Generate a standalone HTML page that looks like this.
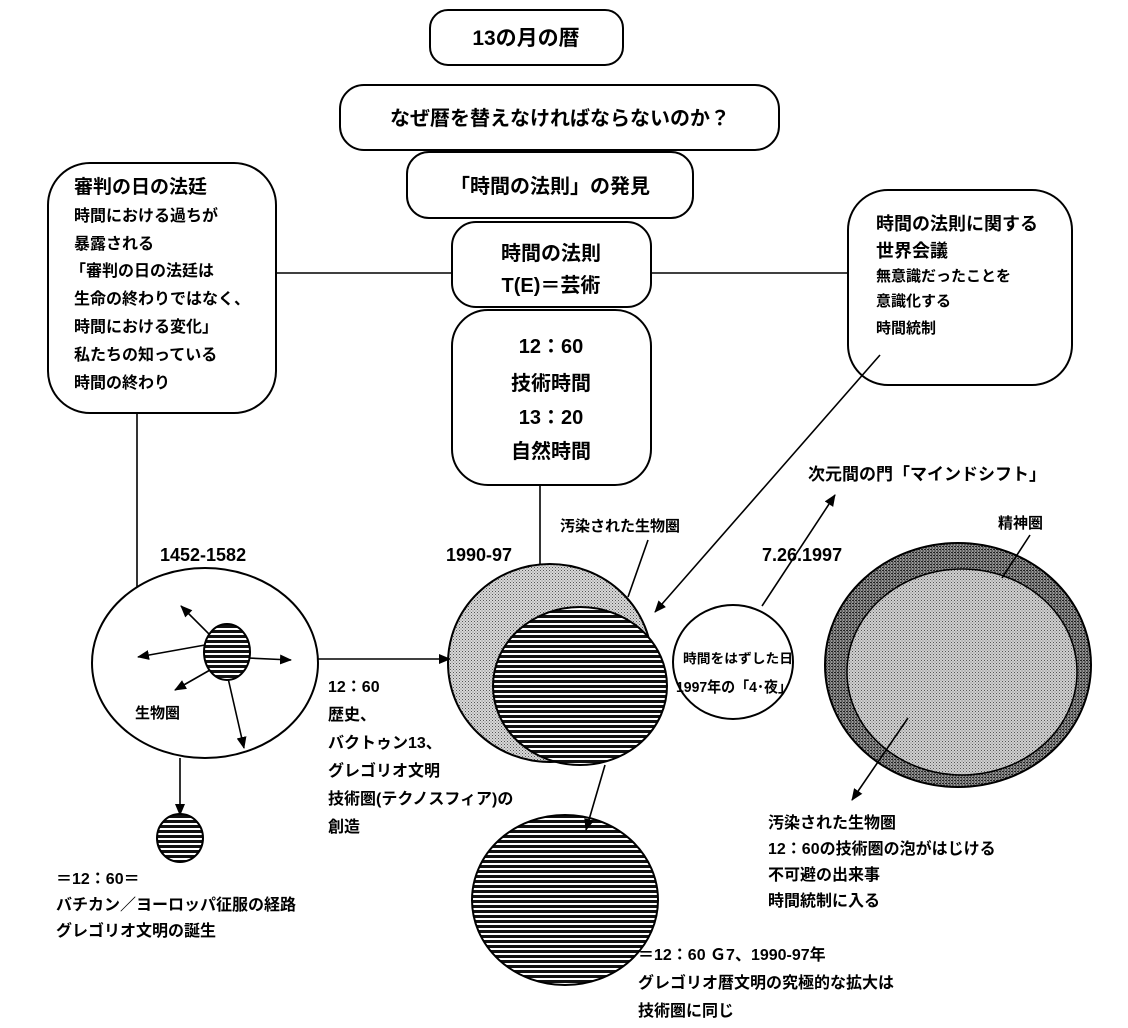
<!DOCTYPE html>
<html><head><meta charset="utf-8"><style>
html,body{margin:0;padding:0;background:#fff}
svg{display:block}
text{font-family:"Liberation Sans","Noto Sans CJK JP",sans-serif;font-weight:bold;fill:#000}
</style></head><body>
<svg width="1128" height="1028" viewBox="0 0 1128 1028" xmlns="http://www.w3.org/2000/svg">
<defs>
<pattern id="hat" width="4" height="5" patternUnits="userSpaceOnUse"><rect width="4" height="5" fill="#fff"/><rect width="4" height="3" fill="#111"/></pattern>
<pattern id="pale" width="3" height="3" patternUnits="userSpaceOnUse"><rect width="3" height="3" fill="#d8d8d8"/><rect width="1" height="1" fill="#555"/><rect x="1.5" y="1.5" width="1" height="1" fill="#777"/></pattern>
<pattern id="dark" width="3" height="3" patternUnits="userSpaceOnUse"><rect width="3" height="3" fill="#999"/><rect width="2" height="1" fill="#222"/><rect x="1" y="1.5" width="2" height="1" fill="#333"/></pattern>
<pattern id="light" width="3" height="3" patternUnits="userSpaceOnUse"><rect width="3" height="3" fill="#d0d0d0"/><rect width="1" height="1" fill="#555"/><rect x="1.5" y="1.5" width="1" height="1" fill="#777"/></pattern>
<marker id="ar" markerWidth="12" markerHeight="10" refX="11" refY="5" orient="auto" markerUnits="userSpaceOnUse"><path d="M0,0 L12,5 L0,10 Z" fill="#000"/></marker>
</defs>
<g fill="#fff" stroke="#000" stroke-width="2">
<rect x="430" y="10" width="193" height="55" rx="18"/>
<rect x="340" y="85" width="439" height="65" rx="24"/>
<rect x="407" y="152" width="286" height="66" rx="22"/>
<rect x="452" y="222" width="199" height="85" rx="24"/>
<rect x="452" y="310" width="199" height="175" rx="36"/>
<rect x="48" y="163" width="228" height="250" rx="42"/>
<rect x="848" y="190" width="224" height="195" rx="40"/>
</g>
<g stroke="#000" stroke-width="1.6" fill="none">
<line x1="276" y1="273" x2="452" y2="273"/>
<line x1="651" y1="273" x2="848" y2="273"/>
<line x1="137" y1="413" x2="137" y2="590"/>
<line x1="540" y1="485" x2="540" y2="575"/>
</g>
<ellipse cx="205" cy="663" rx="113" ry="95" fill="#fff" stroke="#000" stroke-width="2"/>
<ellipse cx="550" cy="663" rx="102" ry="99" fill="url(#pale)" stroke="#000" stroke-width="2"/>
<ellipse cx="580" cy="686" rx="87" ry="79" fill="url(#hat)" stroke="#000" stroke-width="2"/>
<ellipse cx="733" cy="662" rx="60" ry="57" fill="#fff" stroke="#000" stroke-width="2"/>
<ellipse cx="958" cy="665" rx="133" ry="122" fill="url(#dark)" stroke="#000" stroke-width="2"/>
<ellipse cx="962" cy="672" rx="115" ry="103" fill="url(#light)" stroke="#000" stroke-width="1.5"/>
<ellipse cx="565" cy="900" rx="93" ry="85" fill="url(#hat)" stroke="#000" stroke-width="2"/>
<g stroke="#000" stroke-width="1.6" fill="none">
<line x1="215" y1="640" x2="181" y2="606" marker-end="url(#ar)"/>
<line x1="205" y1="645" x2="138" y2="657" marker-end="url(#ar)"/>
<line x1="248" y1="658" x2="291" y2="660" marker-end="url(#ar)"/>
<line x1="210" y1="670" x2="175" y2="690" marker-end="url(#ar)"/>
<line x1="228" y1="678" x2="244" y2="748" marker-end="url(#ar)"/>
<line x1="648" y1="540" x2="628" y2="597"/>
<line x1="1030" y1="535" x2="1002" y2="578"/>
<line x1="318" y1="659" x2="450" y2="659" marker-end="url(#ar)"/>
<line x1="880" y1="355" x2="655" y2="612" marker-end="url(#ar)"/>
<line x1="762" y1="606" x2="835" y2="495" marker-end="url(#ar)"/>
<line x1="180" y1="758" x2="180" y2="815" marker-end="url(#ar)"/>
<line x1="605" y1="765" x2="586" y2="830" marker-end="url(#ar)"/>
<line x1="908" y1="718" x2="852" y2="800" marker-end="url(#ar)"/>
</g>
<ellipse cx="227" cy="652" rx="23" ry="28" fill="url(#hat)" stroke="#000" stroke-width="2"/>
<ellipse cx="180" cy="838" rx="23" ry="24" fill="url(#hat)" stroke="#000" stroke-width="2"/>

<g font-size="20" text-anchor="middle">
<text x="526" y="45" font-size="21">13の月の暦</text>
<text x="560" y="125">なぜ暦を替えなければならないのか？</text>
<text x="550" y="193">「時間の法則」の発見</text>
<text x="551" y="260">時間の法則</text>
<text x="551" y="292">T(E)＝芸術</text>
<text x="551" y="353">12：60</text>
<text x="551" y="390">技術時間</text>
<text x="551" y="424">13：20</text>
<text x="551" y="458">自然時間</text>
</g>
<g font-size="16">
<text x="74" y="193" font-size="19">審判の日の法廷</text>
<text x="74" y="221">時間における過ちが</text>
<text x="74" y="249">暴露される</text>
<text x="70" y="276">「審判の日の法廷は</text>
<text x="74" y="304">生命の終わりではなく、</text>
<text x="74" y="332">時間における変化」</text>
<text x="74" y="360">私たちの知っている</text>
<text x="74" y="388">時間の終わり</text>
<text x="876" y="230" font-size="18">時間の法則に関する</text>
<text x="876" y="257" font-size="18">世界会議</text>
<text x="876" y="281" font-size="15">無意識だったことを</text>
<text x="876" y="306" font-size="15">意識化する</text>
<text x="876" y="333" font-size="15">時間統制</text>
<text x="160" y="561" font-size="18" font-weight="normal">1452-1582</text>
<text x="446" y="561" font-size="18" font-weight="normal">1990-97</text>
<text x="762" y="561" font-size="18" font-weight="normal">7.26.1997</text>
<text x="560" y="531" font-size="15">汚染された生物圏</text>
<text x="808" y="480" font-size="17">次元間の門「マインドシフト」</text>
<text x="998" y="528" font-size="15">精神圏</text>
<text x="135" y="718" font-size="15">生物圏</text>
<text x="683" y="663" font-size="13" textLength="110" lengthAdjust="spacingAndGlyphs">時間をはずした日</text>
<text x="676" y="692" font-size="15" textLength="116" lengthAdjust="spacingAndGlyphs">1997年の「4･夜」</text>
<text x="328" y="692">12：60</text>
<text x="328" y="720">歴史、</text>
<text x="328" y="748">バクトゥン13、</text>
<text x="328" y="776">グレゴリオ文明</text>
<text x="328" y="804">技術圏(テクノスフィア)の</text>
<text x="328" y="832">創造</text>
<text x="56" y="884">＝12：60＝</text>
<text x="56" y="910">バチカン／ヨーロッパ征服の経路</text>
<text x="56" y="936">グレゴリオ文明の誕生</text>
<text x="638" y="960">＝12：60 Ｇ7、1990-97年</text>
<text x="638" y="988">グレゴリオ暦文明の究極的な拡大は</text>
<text x="638" y="1016">技術圏に同じ</text>
<text x="768" y="828">汚染された生物圏</text>
<text x="768" y="854">12：60の技術圏の泡がはじける</text>
<text x="768" y="880">不可避の出来事</text>
<text x="768" y="906">時間統制に入る</text>
</g>
</svg>
</body></html>
